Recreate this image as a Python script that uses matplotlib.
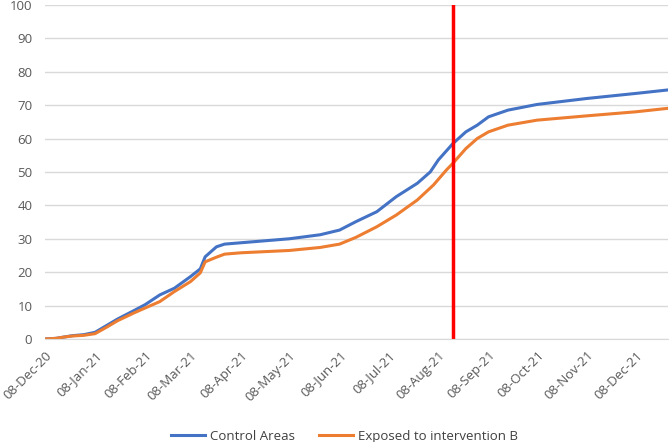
import matplotlib
matplotlib.use("Agg")
import matplotlib.pyplot as plt
import matplotlib.dates as mdates
import pandas as pd

plt.rcParams['font.family'] = ['Open Sans', 'DejaVu Sans']

control_dates = ["2020-12-08", "2020-12-15", "2020-12-20", "2020-12-25", "2021-01-01", "2021-01-08",
                 "2021-01-15", "2021-01-22", "2021-02-01", "2021-02-08", "2021-02-17", "2021-02-26",
                 "2021-03-08", "2021-03-14", "2021-03-17", "2021-03-24", "2021-03-29",
                 "2021-04-08", "2021-05-08", "2021-05-27", "2021-06-08", "2021-06-18",
                 "2021-07-01", "2021-07-13", "2021-07-26", "2021-08-03", "2021-08-08",
                 "2021-08-17", "2021-08-25", "2021-09-01", "2021-09-08", "2021-09-20", "2021-10-08",
                 "2021-11-08", "2021-12-08", "2021-12-27"]
control_vals = [0, 0.2, 0.6, 1.0, 1.3, 2.0,
                4.0, 6.0, 8.5, 10.3, 13.2, 15.2,
                18.7, 21.0, 24.6, 27.6, 28.4,
                28.8, 30.0, 31.2, 32.6, 35.1,
                38.1, 42.6, 46.6, 50.0, 53.6,
                58.5, 62.0, 64.0, 66.5, 68.5, 70.2,
                72.0, 73.5, 74.5]

exposed_dates = ["2020-12-08", "2020-12-15", "2020-12-20", "2020-12-25", "2021-01-01", "2021-01-08",
                 "2021-01-15", "2021-01-22", "2021-02-01", "2021-02-08", "2021-02-17", "2021-02-26",
                 "2021-03-08", "2021-03-14", "2021-03-17", "2021-03-24", "2021-03-29", "2021-04-08",
                 "2021-05-08", "2021-05-27", "2021-06-08", "2021-06-18", "2021-07-01", "2021-07-13",
                 "2021-07-26", "2021-08-05", "2021-08-13", "2021-08-17", "2021-08-25",
                 "2021-09-01", "2021-09-08", "2021-09-20", "2021-10-08", "2021-11-08", "2021-12-08",
                 "2021-12-27"]
exposed_vals = [0, 0.2, 0.6, 0.9, 1.1, 1.6,
                3.5, 5.5, 7.8, 9.3, 11.2, 14.2,
                17.2, 19.8, 23.1, 24.5, 25.4, 25.8,
                26.5, 27.4, 28.4, 30.4, 33.6, 37.1,
                41.6, 46.1, 50.6, 52.6, 57.0,
                60.0, 62.0, 64.0, 65.5, 66.8, 68.0,
                69.0]

intervention_date = "2021-08-17"
tick_dates = ["2020-12-08", "2021-01-08", "2021-02-08", "2021-03-08", "2021-04-08", "2021-05-08",
              "2021-06-08", "2021-07-08", "2021-08-08", "2021-09-08", "2021-10-08", "2021-11-08",
              "2021-12-08"]
x_start, x_end = "2020-12-08", "2021-12-28"
y_ticks = list(range(0, 101, 10))

fig = plt.figure(figsize=(6.69, 4.42), dpi=100)
ax = fig.add_axes([0.067, 0.233, 0.932, 0.756])

ax.plot(pd.to_datetime(control_dates), control_vals, color="#4472C4", lw=2.2, label="Control Areas")
ax.plot(pd.to_datetime(exposed_dates), exposed_vals, color="#ED7D31", lw=2.2, label="Exposed to intervention B")
ax.axvline(pd.Timestamp(intervention_date), color="#FF0000", lw=2.5)

ax.set_xlim(pd.Timestamp(x_start), pd.Timestamp(x_end))
ax.set_ylim(0, 100)
ax.set_yticks(y_ticks)
ax.set_xticks(pd.to_datetime(tick_dates))
ax.xaxis.set_major_formatter(mdates.DateFormatter("%d-%b-%y"))
plt.setp(ax.get_xticklabels(), rotation=45, ha="right", rotation_mode="anchor")
ax.tick_params(axis="both", length=0, labelsize=9.5, colors="#595959")
ax.tick_params(axis="x", pad=7)
ax.tick_params(axis="y", pad=9)
ax.grid(axis="y", color="#D9D9D9", lw=1)
ax.set_axisbelow(True)
for s in ["top", "right", "left"]:
    ax.spines[s].set_visible(False)
ax.spines["bottom"].set_color("#D9D9D9")

fig.legend(loc="lower center", bbox_to_anchor=(0.515, -0.028), ncol=2, frameon=False,
           fontsize=9.5, handlelength=2.6, handletextpad=0.4, columnspacing=1.8, labelcolor="#404040")

fig.savefig("out.png", dpi=100)
